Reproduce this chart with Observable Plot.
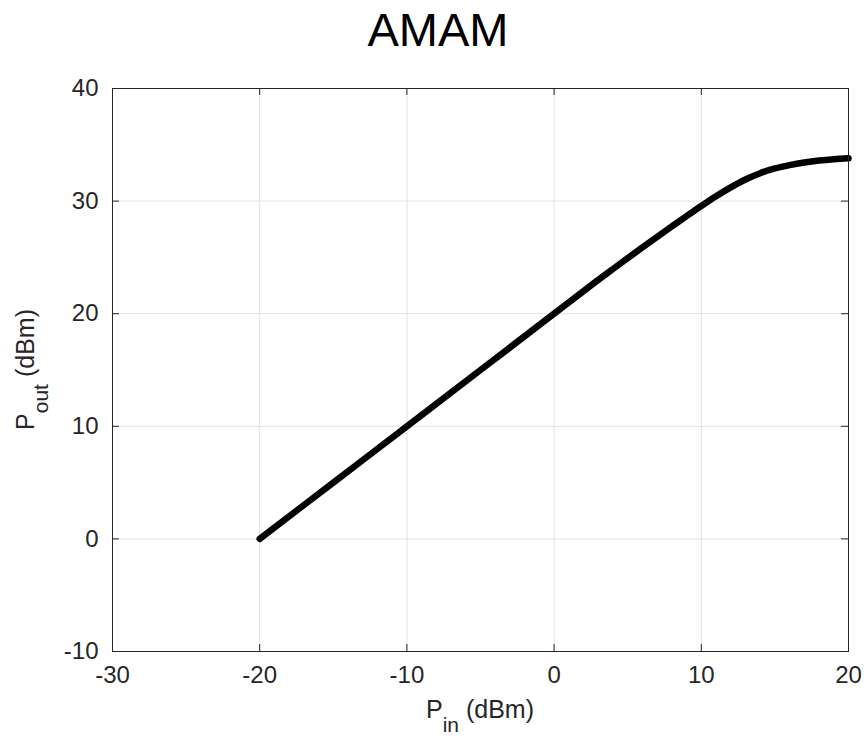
<!DOCTYPE html>
<html>
<head>
<meta charset="utf-8">
<script src="https://cdn.jsdelivr.net/npm/d3@7"></script>
<script src="https://cdn.jsdelivr.net/npm/@observablehq/plot@0.6"></script>
<style>
  html, body { margin: 0; padding: 0; background: #fff; }
  #wrap { width: 864px; height: 741px; position: relative; overflow: hidden; font-family: "Liberation Sans", Arial, sans-serif; }
  #title { position: absolute; left: 0; top: 6px; width: 864px; padding-left: 12px; box-sizing: border-box; text-align: center; font-size: 47px; line-height: 47px; color: #000; }
  #chart { position: absolute; left: 0; top: 70px; }
</style>
</head>
<body>
<div id="wrap">
  <div id="title">AMAM</div>
  <div id="chart"></div>
</div>
<script>
// Input power (dBm)
const pin = [-20, -15, -10, -5, 0, 2, 3, 4, 5, 6, 7, 8, 9, 10, 11, 12, 13, 14, 15, 16, 17, 18, 19, 20];
// Output power (dBm)
const pout = [0, 5, 10, 15, 20, 22, 23, 23.97, 24.93, 25.88, 26.82, 27.75, 28.67, 29.57, 30.43, 31.22, 31.92, 32.48, 32.9, 33.2, 33.43, 33.6, 33.72, 33.8];
const xTicks = [-30, -20, -10, 0, 10, 20];
const yTicks = [-10, 0, 10, 20, 30, 40];
const titleText = "AMAM";

const data = pin.map((x, i) => ({x, y: pout[i]}));

const W = 864, H = 671;
const mT = 18, mB = 90, mL = 112, mR = 16;
const frameH = H - mT - mB, frameW = W - mL - mR;
const tick = 7;
const axisColor = "#262626";
const gridColor = "#e2e2e2";
const font = "Liberation Sans, Arial, sans-serif";

document.getElementById("title").textContent = titleText;

const svg = Plot.plot({
  width: W, height: H,
  marginTop: mT, marginBottom: mB, marginLeft: mL, marginRight: mR,
  style: {fontFamily: font, background: "#fff"},
  x: {domain: [-30, 20]},
  y: {domain: [-10, 40]},
  marks: [
    Plot.ruleX(xTicks, {x: d => d, stroke: gridColor, strokeWidth: 1}),
    Plot.ruleY(yTicks, {y: d => d, stroke: gridColor, strokeWidth: 1}),
    // inward ticks
    Plot.tickX(xTicks, {x: d => d, stroke: axisColor, insetTop: frameH - tick}),
    Plot.tickX(xTicks, {x: d => d, stroke: axisColor, insetBottom: frameH - tick}),
    Plot.tickY(yTicks, {y: d => d, stroke: axisColor, insetRight: frameW - tick}),
    Plot.tickY(yTicks, {y: d => d, stroke: axisColor, insetLeft: frameW - tick}),
    Plot.axisX(xTicks, {anchor: "bottom", tickSize: 0, tickPadding: 14, fontSize: 24, color: axisColor, label: null, tickFormat: d => String(d)}),
    Plot.axisY(yTicks, {anchor: "left", tickSize: 0, tickPadding: 14, fontSize: 24, color: axisColor, label: null, tickFormat: d => String(d)}),
    Plot.line(data, {x: "x", y: "y", stroke: "#000", strokeWidth: 6.5, strokeLinecap: "round", strokeLinejoin: "round", curve: "catmull-rom"}),
    Plot.frame({stroke: axisColor, strokeWidth: 1})
  ]
});

const s = d3.select(svg);
// x label: P_in (dBm)
const xl = s.append("text")
  .attr("x", (mL + W - mR) / 2)
  .attr("y", H - 8 - 15)
  .attr("text-anchor", "middle")
  .attr("fill", axisColor)
  .attr("font-size", 25)
  .attr("font-family", font);
xl.append("tspan").text("P");
xl.append("tspan").attr("font-size", 21).attr("dy", 14).text("in");
xl.append("tspan").attr("dy", -14).text(" (dBm)");

// y label: P_out (dBm)
const yc = mT + frameH / 2;
const yl = s.append("text")
  .attr("transform", `translate(34,${yc}) rotate(-90)`)
  .attr("text-anchor", "middle")
  .attr("fill", axisColor)
  .attr("font-size", 25)
  .attr("font-family", font);
yl.append("tspan").text("P");
yl.append("tspan").attr("font-size", 21).attr("dy", 14).text("out");
yl.append("tspan").attr("dy", -14).text(" (dBm)");

document.getElementById("chart").appendChild(svg);
</script>
</body>
</html>
